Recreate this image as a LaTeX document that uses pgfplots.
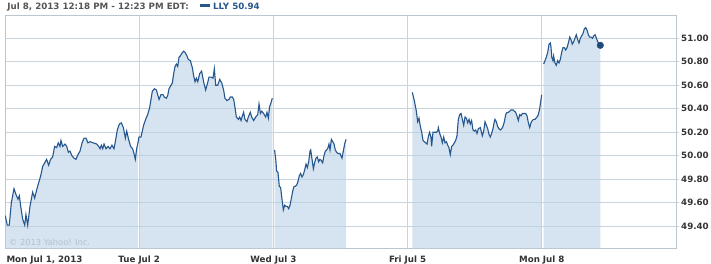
\documentclass[border=0pt]{standalone}
\usepackage{pgfplots}
\pgfplotsset{compat=1.18}
\usepackage{pgfplotstable}
\usepackage{fontspec}
\setmainfont{DejaVu Sans}
\definecolor{linecol}{RGB}{38,86,142}
\definecolor{dotcol}{RGB}{30,74,124}
\definecolor{fillcol}{RGB}{185,210,230}
\definecolor{gridcol}{RGB}{200,212,222}
\definecolor{axiscol}{RGB}{188,198,208}
\definecolor{labelcol}{RGB}{51,51,51}
\definecolor{headcol}{RGB}{85,85,85}
\definecolor{wmcol}{RGB}{180,192,204}

\pgfplotstableread{
x y
0.002 49.49
0.017 49.41
0.032 49.41
0.047 49.60
0.067 49.72
0.082 49.67
0.097 49.63
0.107 49.66
0.117 49.57
0.132 49.46
0.147 49.41
0.156 49.50
0.169 49.41
0.186 49.57
0.206 49.69
0.221 49.64
0.236 49.71
0.251 49.77
0.266 49.83
0.281 49.91
0.296 49.94
0.310 49.97
0.325 49.92
0.340 49.97
0.355 49.99
0.370 50.08
0.385 50.07
0.397 50.11
0.410 50.08
0.417 50.13
0.430 50.08
0.447 50.10
0.460 50.08
0.472 50.03
0.484 50.04
0.499 50.00
0.514 49.98
0.529 49.97
0.544 50.01
0.559 50.04
0.574 50.11
0.589 50.15
0.604 50.15
0.618 50.11
0.633 50.12
0.658 50.11
0.683 50.10
0.698 50.08
0.708 50.06
0.718 50.09
0.728 50.06
0.738 50.10
0.753 50.06
0.768 50.08
0.782 50.06
0.797 50.09
0.812 50.06
0.822 50.12
0.837 50.22
0.852 50.27
0.867 50.28
0.882 50.24
0.897 50.15
0.907 50.21
0.921 50.14
0.936 50.08
0.951 50.06
0.961 50.02
0.971 49.97
0.981 50.06
0.991 50.11
}\mondayA

\pgfplotstableread{
x y
0.998 50.16
1.013 50.16
1.023 50.21
1.033 50.26
1.048 50.31
1.063 50.35
1.078 50.41
1.088 50.48
1.098 50.55
1.113 50.57
1.128 50.56
1.138 50.52
1.148 50.48
1.162 50.52
1.177 50.52
1.187 50.50
1.202 50.49
1.212 50.51
1.222 50.57
1.232 50.59
1.247 50.62
1.257 50.70
1.267 50.76
1.277 50.78
1.287 50.76
1.297 50.84
1.307 50.85
1.316 50.87
1.331 50.89
1.341 50.88
1.356 50.85
1.366 50.82
1.381 50.81
1.396 50.75
1.406 50.68
1.416 50.63
1.426 50.66
1.436 50.63
1.451 50.70
1.465 50.72
1.480 50.63
1.495 50.56
1.510 50.62
1.520 50.67
1.535 50.67
1.550 50.66
1.560 50.74
1.570 50.60
1.585 50.60
1.600 50.65
1.615 50.62
1.629 50.56
1.639 50.49
1.654 50.47
1.669 50.48
1.679 50.50
1.694 50.50
1.704 50.48
1.714 50.41
1.724 50.33
1.739 50.31
1.749 50.33
1.759 50.30
1.769 50.34
1.778 50.37
1.788 50.31
1.803 50.29
1.813 50.33
1.828 50.37
1.838 50.33
1.853 50.30
1.868 50.33
1.883 50.35
1.893 50.44
1.903 50.36
1.913 50.38
1.927 50.36
1.942 50.33
1.952 50.37
1.962 50.32
1.972 50.42
1.982 50.45
1.992 50.49
}\tuesday

\pgfplotstableread{
x y
2.009 50.05
2.019 49.95
2.024 49.87
2.034 49.86
2.044 49.74
2.054 49.73
2.064 49.63
2.074 49.54
2.084 49.58
2.094 49.57
2.104 49.57
2.114 49.55
2.124 49.58
2.134 49.64
2.144 49.70
2.154 49.74
2.163 49.74
2.173 49.75
2.183 49.78
2.193 49.83
2.203 49.85
2.213 49.82
2.223 49.84
2.233 49.88
2.243 49.93
2.253 49.90
2.263 49.95
2.273 50.04
2.278 50.05
2.288 49.97
2.298 49.89
2.307 49.94
2.317 49.98
2.327 49.99
2.337 49.95
2.347 49.97
2.357 49.96
2.367 49.94
2.377 50.00
2.387 50.04
2.397 50.05
2.407 50.07
2.414 50.10
2.422 50.05
2.432 50.14
2.442 50.12
2.452 50.10
2.461 50.05
2.471 50.03
2.481 50.02
2.496 50.02
2.511 49.98
2.521 50.04
2.531 50.10
2.541 50.14
}\wednesday

\pgfplotstableread{
x y
3.035 50.54
3.050 50.47
3.065 50.38
3.075 50.29
3.085 50.32
3.095 50.25
3.105 50.20
3.115 50.13
3.125 50.12
3.135 50.11
3.145 50.10
3.154 50.16
3.164 50.20
3.174 50.16
3.179 50.08
3.189 50.20
3.199 50.20
3.214 50.20
3.224 50.21
3.229 50.24
3.239 50.19
3.249 50.16
3.259 50.11
3.269 50.16
3.279 50.11
3.289 50.12
3.299 50.09
3.308 50.07
3.318 50.01
3.328 50.08
3.338 50.09
3.348 50.11
3.358 50.13
3.368 50.17
3.378 50.31
3.388 50.35
3.398 50.36
3.408 50.31
3.418 50.26
3.428 50.33
3.438 50.32
3.448 50.28
3.458 50.31
3.467 50.27
3.477 50.30
3.487 50.22
3.497 50.21
3.507 50.22
3.517 50.19
3.527 50.23
3.542 50.24
3.557 50.17
3.567 50.21
3.577 50.29
3.587 50.26
3.597 50.23
3.607 50.18
3.616 50.16
3.626 50.19
3.636 50.23
3.646 50.29
3.651 50.31
3.661 50.29
3.671 50.25
3.681 50.23
3.691 50.22
3.701 50.23
3.711 50.25
3.721 50.29
3.731 50.35
3.741 50.37
3.751 50.37
3.761 50.38
3.770 50.39
3.785 50.39
3.795 50.38
3.805 50.37
3.815 50.34
3.825 50.30
3.835 50.35
3.845 50.34
3.855 50.36
3.865 50.36
3.880 50.36
3.890 50.34
3.900 50.28
3.910 50.24
3.919 50.28
3.929 50.30
3.939 50.31
3.949 50.31
3.964 50.33
3.974 50.35
3.984 50.40
3.994 50.48
3.999 50.52
}\friday

\pgfplotstableread{
x y
4.014 50.78
4.024 50.81
4.034 50.84
4.044 50.88
4.054 50.95
4.064 50.96
4.069 50.92
4.074 50.84
4.083 50.81
4.088 50.85
4.098 50.79
4.108 50.77
4.118 50.81
4.128 50.79
4.138 50.82
4.148 50.88
4.158 50.92
4.168 50.92
4.178 50.90
4.188 50.92
4.198 50.96
4.208 51.01
4.217 50.99
4.227 50.95
4.237 50.97
4.247 51.00
4.257 51.03
4.267 50.99
4.277 50.96
4.287 51.00
4.297 51.02
4.307 51.04
4.317 51.08
4.327 51.09
4.337 51.07
4.347 51.03
4.357 51.01
4.367 51.01
4.377 51.00
4.387 51.02
4.397 51.03
4.407 51.00
4.417 50.97
4.427 50.95
4.436 50.94
}\mondayB

\begin{document}
\begin{tikzpicture}
\begin{axis}[
  at={(0,0)}, anchor=south west,
  scale only axis, width=671bp, height=232.6bp,
  xmin=0, xmax=5, ymin=49.213, ymax=51.192,
  xtick={0,1,2,3,4},
  xticklabels={{\makebox[0pt][l]{\hspace{1.5bp}Mon Jul 1, 2013}},Tue Jul 2,Wed Jul 3,Fri Jul 5,Mon Jul 8},
  ytick={49.4,49.6,49.8,50,50.2,50.4,50.6,50.8,51},
  xtick pos=bottom, ytick pos=right,
  yticklabel pos=right,
  tick align=outside,
  major tick length=3bp,
  xtick style={draw=none},
  ytick style={draw=gridcol, line width=0.8bp},
  grid=major,
  major grid style={draw=gridcol, line width=0.8bp},
  axis line style={draw=axiscol, line width=0.8bp},
  ticklabel style={font=\fontsize{8.7bp}{10bp}\selectfont\bfseries, text=labelcol, inner sep=0pt},
  xticklabel style={anchor=base, yshift=-11.5bp},
  yticklabel style={anchor=west, xshift=2bp,
    /pgf/number format/.cd, fixed, fixed zerofill, precision=2, assume math mode=true},
]
\addplot[draw=none, fill=fillcol, fill opacity=0.6] table {\mondayA} \closedcycle;
\addplot[draw=none, fill=fillcol, fill opacity=0.6] table {\tuesday} \closedcycle;
\addplot[draw=none, fill=fillcol, fill opacity=0.6] table {\wednesday} \closedcycle;
\addplot[draw=none, fill=fillcol, fill opacity=0.6] table {\friday} \closedcycle;
\addplot[draw=none, fill=fillcol, fill opacity=0.6] table {\mondayB} \closedcycle;
\addplot[linecol, line width=1.1bp, mark=none] table {\mondayA};
\addplot[linecol, line width=1.1bp, mark=none] coordinates {(0.991,50.11) (0.998,50.16)};
\addplot[linecol, line width=1.1bp, mark=none] table {\tuesday};
\addplot[linecol, line width=1.1bp, mark=none] table {\wednesday};
\addplot[linecol, line width=1.1bp, mark=none] table {\friday};
\addplot[linecol, line width=1.1bp, mark=none] table {\mondayB};
\addplot[only marks, mark=*, mark size=3.3bp, dotcol, mark options={draw=dotcol, fill=dotcol}] coordinates {(4.436,50.94)};
\end{axis}
\node[anchor=base west, inner sep=0pt, text=wmcol, font=\fontsize{8.3bp}{10bp}\selectfont] at (4bp,3.3bp) {© 2013 Yahoo! Inc.};
\node[anchor=base west, inner sep=0pt, text=headcol, font=\fontsize{8.7bp}{10bp}\selectfont\bfseries] at (2.3bp,238.3bp) {Jul 8, 2013 12:18 PM - 12:23 PM EDT:};
\fill[linecol] (194.5bp,240.8bp) rectangle (205bp,244bp);
\node[anchor=base west, inner sep=0pt, text=linecol, font=\fontsize{8.7bp}{10bp}\selectfont\bfseries] at (208bp,238.3bp) {LLY 50.94};
\pgfresetboundingbox
\path[use as bounding box] (-5bp,-15.7bp) rectangle (706bp,248.3bp);
\end{tikzpicture}
\end{document}
